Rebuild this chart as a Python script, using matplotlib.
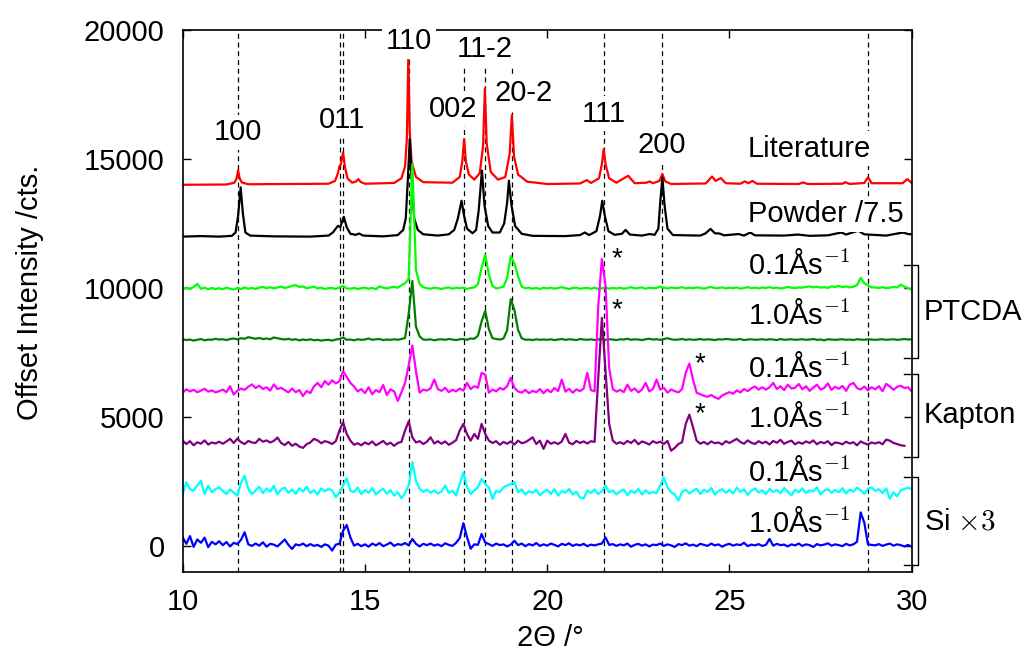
import numpy as np
import matplotlib
matplotlib.use("Agg")
import matplotlib.pyplot as plt

plt.rcParams['font.family'] = ['Liberation Sans', 'DejaVu Sans']
plt.rcParams['mathtext.fontset'] = 'cm'

# literature pattern (offset 14000)
lit_x = [10.0, 11.2, 11.42, 11.48, 11.52, 11.56, 11.62, 11.8, 14.0, 14.18, 14.26, 14.30, 14.34,
         14.40, 14.45, 14.52, 14.65, 14.76, 14.82, 14.88, 15.0, 15.8, 16.0, 16.1, 16.15, 16.19,
         16.23, 16.28, 16.4, 16.6, 17.4, 17.6, 17.67, 17.72, 17.77, 17.85, 18.0, 18.15, 18.24,
         18.29, 18.34, 18.45, 18.65, 18.85, 18.97, 19.03, 19.09, 19.2, 19.45, 20.0, 20.9, 21.09,
         21.2, 21.42, 21.5, 21.55, 21.6, 21.7, 21.9, 22.22, 22.4, 22.72, 22.81, 22.9, 23.08,
         23.16, 23.24, 23.4, 24.35, 24.52, 24.62, 24.76, 24.9, 25.3, 25.42, 25.52, 25.63, 25.75,
         26.9, 27.02, 27.15, 28.1, 28.18, 28.3, 28.7, 28.8, 28.9, 29.75, 29.88, 30.0]
lit_y = [14000, 14010, 14080, 14250, 14570, 14260, 14090, 14020, 14040, 14150, 14450, 14720, 14800,
         15250, 14700, 14250, 14080, 14130, 14220, 14110, 14040, 14070, 14250, 14700, 15800, 18960,
         16000, 14900, 14300, 14100, 14080, 14300, 14900, 15770, 14900, 14400, 14200, 14450, 15500,
         17730, 15600, 14500, 14200, 14300, 15200, 16700, 15100, 14400, 14120, 14030, 14050, 14180,
         14070, 14250, 14800, 15380, 14800, 14250, 14080, 14350, 14060, 14080, 14130, 14060, 14150,
         14420, 14130, 14030, 14050, 14320, 14150, 14260, 14060, 14040, 14130, 14060, 14150, 14040,
         14030, 14090, 14030, 14040, 14100, 14030, 14070, 14290, 14060, 14060, 14220, 14070]

# powder pattern /7.5 (offset 12000)
pow_x = [10.0, 10.5, 11.0, 11.35, 11.45, 11.52, 11.59, 11.65, 11.72, 11.85, 12.5, 13.5, 14.0,
         14.12, 14.2, 14.26, 14.32, 14.42, 14.5, 14.6, 14.75, 14.84, 14.95, 15.5, 15.9, 16.05,
         16.12, 16.18, 16.23, 16.28, 16.35, 16.45, 16.6, 17.0, 17.3, 17.45, 17.55, 17.65, 17.72,
         17.8, 17.95, 18.05, 18.12, 18.21, 18.28, 18.38, 18.5, 18.7, 18.82, 18.9, 18.95, 19.02,
         19.12, 19.3, 19.6, 20.5, 20.9, 21.03, 21.15, 21.35, 21.45, 21.51, 21.58, 21.68, 21.85,
         22.05, 22.15, 22.27, 22.6, 22.81, 22.95, 23.05, 23.1, 23.16, 23.22, 23.3, 23.45, 24.2,
         24.35, 24.48, 24.6, 24.73, 24.85, 25.25, 25.4, 25.57, 25.7, 26.5, 26.88, 27.2, 27.7,
         28.07, 28.2, 28.53, 28.7, 29.3, 29.76, 29.9, 30.0]
pow_y = [11990, 12010, 11990, 12020, 12150, 12800, 13900, 12900, 12150, 12030, 12000, 11990, 12030,
         12150, 12300, 12410, 12350, 12760, 12350, 12100, 12060, 12110, 12030, 12000, 12050, 12250,
         12700, 14300, 15770, 14300, 12700, 12250, 12080, 12030, 12080, 12250, 12700, 13380, 12800,
         12300, 12120, 12250, 13000, 14550, 13200, 12400, 12150, 12150, 12500, 13300, 14160, 13200,
         12400, 12100, 12020, 12010, 12050, 12150, 12050, 12200, 12800, 13380, 12800, 12200, 12060,
         12100, 12250, 12070, 12030, 12090, 12060, 12300, 13300, 14290, 13200, 12300, 12050, 12030,
         12120, 12290, 12120, 12110, 12040, 12090, 12030, 12150, 12040, 12030, 12070, 12020, 12040,
         12150, 12070, 12220, 12080, 12030, 12150, 12090, 12080]

# measured films, sampled every 0.1 deg from 10.0
ptcda_01 = [9980, 10010, 9960, 10040, 10160, 9970, 10010, 9950, 10000, 9960,
            9990, 9950, 10010, 9970, 9940, 10000, 9960, 10020, 9970, 10000,
            9960, 10010, 10040, 9990, 10030, 9980, 10020, 10050, 10000, 10030,
            10080, 10110, 10040, 10060, 9990, 10020, 10050, 9980, 10010, 9960,
            9990, 10000, 9960, 10020, 10080, 9980, 9970, 10000, 9960, 9990,
            10010, 9970, 10000, 9950, 10060, 10010, 9980, 10020, 10040, 10010,
            10100, 10180, 10350, 14800, 10700, 10150, 10030, 9990, 9970, 10010,
            9990, 9960, 10000, 10020, 9970, 10010, 9990, 10010, 9960, 10000,
            10020, 10150, 10780, 11290, 10520, 10080, 9980, 10010, 10050, 10380,
            11240, 10950, 10450, 10050, 9990, 10010, 9970, 10000, 9960, 10010,
            9980, 10010, 9970, 10000, 10030, 9990, 9960, 10000, 10010, 9970,
            9990, 10000, 9970, 10010, 9960, 9990, 10020, 9970, 10000, 9980,
            10010, 9970, 9990, 10030, 9980, 10000, 10020, 9970, 10010, 9990,
            10000, 10050, 10010, 9980, 10020, 9990, 10000, 10030, 9980, 10010,
            9990, 10020, 10000, 9970, 10010, 10040, 9990, 10000, 10020, 9980,
            10010, 9990, 10020, 9970, 10000, 10030, 9990, 10010, 9980, 10020,
            10000, 10030, 9990, 10010, 9980, 10000, 10040, 10010, 9990, 10020,
            10010, 10040, 10060, 10020, 10050, 10010, 10030, 10000, 10060, 10040,
            10080, 10030, 10060, 10020, 10050, 10110, 10390, 10180, 10100, 10020,
            10020, 10000, 10030, 9990, 10010, 10040, 10020, 10130, 10050, 9990,
            9940]
ptcda_10 = [8010, 7980, 8000, 7960, 7990, 8020, 7970, 8000, 7990, 8030,
            8000, 8010, 7980, 8020, 8040, 8010, 8050, 8030, 8090, 8060,
            8030, 8060, 8020, 8040, 8010, 8080, 8050, 8020, 8000, 8030,
            7990, 8010, 7970, 8000, 7980, 8010, 7970, 7990, 7960, 7980,
            7990, 7960, 8000, 8020, 8080, 7990, 8000, 7970, 8010, 7990,
            8000, 8040, 7990, 8010, 8020, 7980, 8000, 7990, 8010, 7990,
            8020, 8060, 9000, 10270, 8500, 8120, 8000, 7990, 8010, 7970,
            8000, 8010, 7990, 8020, 8000, 7980, 8010, 8020, 7990, 8040,
            8030, 8150, 8700, 9110, 8400, 8050, 8020, 8000, 8040, 8360,
            9570, 9150, 8380, 8050, 7990, 8000, 7980, 8010, 7990, 8000,
            7990, 8010, 7980, 8000, 8020, 7990, 8010, 8000, 7980, 8020,
            8000, 7990, 8010, 7980, 8000, 8020, 7990, 8010, 8000, 7980,
            8010, 8000, 8030, 7990, 8010, 8000, 7980, 8010, 8030, 8000,
            8010, 7990, 8020, 8050, 8010, 7990, 8000, 8020, 7990, 8010,
            7990, 8000, 8020, 7990, 8010, 8000, 7980, 8010, 8000, 8020,
            8010, 7990, 8000, 8020, 7980, 8000, 8010, 7990, 8000, 8010,
            7990, 8010, 8000, 7980, 8020, 7990, 8000, 8010, 7990, 8000,
            8010, 7990, 8000, 8020, 7990, 8000, 7970, 8010, 8000, 7990,
            8000, 8010, 7990, 8000, 7980, 8010, 8000, 7990, 8010, 8000,
            7990, 8000, 8010, 7990, 8000, 8010, 7990, 8000, 8020, 8000,
            8010]
kapton_01 = [5940, 6070, 5990, 6050, 5960, 6020, 6090, 5980, 6030, 5950,
             6000, 6060, 5960, 6190, 5870, 6020, 6100, 6050, 6170, 6260,
             6120, 6210, 6080, 6150, 6020, 6260, 6080, 6130, 6040, 5950,
             6100, 5960, 6040, 5810, 6010, 5920, 6180, 6320, 6150, 6390,
             6250, 6420, 6300, 6380, 6770, 6550, 6320, 6180, 5990, 6080,
             5920, 6150, 5880, 6040, 5960, 6240, 5850, 6070, 5990, 5620,
             5950, 6320, 7000, 7770, 6770, 5940, 6060, 6020, 6110, 6450,
             6080, 6010, 6130, 5960, 6050, 5990, 6100, 6020, 6320, 6080,
             6190, 6130, 6710, 6640, 5940, 6060, 5990, 6120, 6060, 6190,
             6520, 6130, 5990, 5940, 6050, 5920, 6010, 5960, 6080, 5920,
             6060, 5960, 6120, 6000, 6450, 5980, 6090, 5940, 6070, 6000,
             6100, 6710, 6040, 5990, 9290, 11120, 10100, 6900, 6080, 5980,
             6050, 5960, 6250, 6010, 6100, 5950, 6060, 6320, 5990, 6080,
             6450, 6060, 6130, 5940, 6060, 6000, 5950, 6080, 6710, 7070,
             6450, 5940, 5880, 5820, 5780, 5850, 5760, 5700, 5830, 5900,
             5960, 5900, 6030, 5950, 6080, 6000, 6110, 6180, 6060, 6150,
             6060, 6150, 6320, 6080, 6190, 6040, 6250, 6100, 6130, 6280,
             6070, 6190, 6010, 6140, 6250, 6060, 6120, 6300, 6050, 6170,
             6090, 6200, 6010, 6250, 6320, 6120, 6060, 6180, 6030, 6150,
             6070, 6190, 6000, 6280, 6180, 6050, 6170, 6210, 6120, 6150,
             5990]
kapton_10 = [4080, 3950, 4060, 3900, 4020, 3960, 4090, 3930, 4010, 3970,
             4040, 3960, 4050, 4150, 3990, 4160, 4020, 3950, 4070, 4010,
             3990, 4150, 4040, 4090, 4010, 4070, 4200, 3990, 3910, 4030,
             3880, 3960, 3850, 3800, 3940, 4010, 4150, 4090, 3980, 4060,
             4020, 3950, 4060, 4470, 4790, 4340, 4080, 3920, 3980, 3900,
             4010, 3940, 4050, 3900, 3980, 4070, 3930, 4000, 3880, 3990,
             4030, 4470, 4830, 4210, 4010, 4060, 3950, 4040, 4210, 3970,
             4060, 3960, 4050, 3920, 4000, 4100, 4470, 4730, 4340, 4080,
             4340, 4150, 4730, 4340, 4080, 3990, 4060, 3920, 4030, 3960,
             4050, 3930, 4080, 3980, 4020, 4110, 4210, 3950, 4080, 3760,
             4080, 3960, 4020, 3950, 4050, 4340, 4000, 3940, 4070, 3990,
             4050, 3970, 4060, 4030, 6500, 8840, 6800, 4730, 4080, 3960,
             4020, 3950, 4070, 3990, 4110, 3940, 4050, 4000, 3930, 4060,
             3990, 4040, 3950, 4070, 3690, 3800, 3950, 4020, 4730, 5090,
             4600, 4080, 3960, 4030, 3940, 4050, 3980, 4010, 3930, 4060,
             3990, 4070, 4150, 4030, 3960, 4090, 4000, 3950, 4060, 3980,
             4040, 3930, 4070, 4000, 4110, 3960, 4030, 4080, 3940, 4020,
             3960, 4050, 3990, 4090, 3940, 4030, 3980, 4060, 3910, 4010,
             3990, 3940, 4040, 3970, 4020, 3900, 4050, 3980, 3930, 4010,
             3970, 4020, 3940, 4120, 4080, 3990, 3950, 3900, 3880]
si_01 = [2010, 2470, 2200, 2140, 2350, 2530, 2010, 2340, 2080, 2200,
         2270, 2130, 2010, 2190, 2060, 1950, 2450, 2720, 2210, 2010,
         2150, 2290, 2050, 2220, 2100, 2330, 2000, 2190, 2260, 2060,
         2180, 2020, 2240, 2110, 2300, 2050, 2160, 1990, 2230, 2120,
         2210, 2150, 1890, 2080, 2340, 2630, 2140, 2090, 2260, 2010,
         2170, 2060, 2240, 1990, 2130, 2210, 2020, 2160, 1950, 2080,
         1850, 2050, 2340, 3240, 2530, 2210, 2100, 2180, 2060, 2150,
         2030, 2110, 2340, 2050, 2140, 1950, 2400, 2850, 2270, 2010,
         2150, 2270, 2600, 2400, 2270, 1820, 2140, 2080, 2270, 2340,
         2400, 2470, 2080, 2190, 1990, 2120, 2060, 2180, 1960, 2090,
         2180, 2020, 2200, 1950, 2130, 2060, 2210, 1990, 2100, 1880,
         1830, 2150, 2050, 2190, 2010, 2120, 2340, 2080, 2150, 2000,
         2110, 2190, 1960, 2140, 2050, 2210, 1990, 2160, 2030, 2090,
         2050, 2340, 2660, 2270, 2080, 2000, 1760, 2090, 2180, 2030,
         2140, 2220, 2010, 2180, 2090, 2250, 1990, 2130, 2200, 2060,
         2170, 2030, 2260, 2100, 2190, 1980, 2140, 2230, 2070, 2160,
         2000, 2210, 2090, 2170, 2040, 2250, 2110, 1960, 2180, 2080,
         2230, 2050, 2160, 2110, 2270, 1990, 2140, 2200, 2060, 2170,
         2080, 2240, 2030, 2190, 2100, 2260, 2150, 2020, 2210, 2270,
         2130, 2200, 2050, 2230, 1830, 2080, 1920, 2160, 2210, 2250,
         2210]
si_10 = [330, 80, 380, -40, 250, 120, 320, -50, 160, 60,
         180, 30, 150, -20, 120, 70, 240, 530, 60, 0,
         90, 10, 140, -30, 80, 50, -20, 110, 250, 40,
         -120, 60, 20, 90, -10, 70, 0, 40, -40, 60,
         10, -180, 50, 80, 590, 810, 330, 10, 80, -10,
         60, -30, 90, 20, 110, -10, 50, 130, 0, 70,
         40, 110, 20, 270, 80, -20, 80, 30, 90, 10,
         60, -10, 100, 40, 0, 120, 300, 880, 340, -110,
         60, 40, 460, 130, 70, 0, 90, 30, 60, -20,
         50, 200, 30, 90, -10, 70, 20, 110, 0, 60,
         10, 90, 40, -20, 80, 30, 100, 0, 60, 20,
         80, -10, 50, 20, 60, 90, 330, 40, 70, 0,
         60, 20, 90, -30, 40, 80, 10, 60, -20, 50,
         30, 90, 0, 60, 20, -40, 70, 30, 100, 10,
         50, -10, 80, 40, 0, 90, 20, 60, -30, 40,
         80, 10, 60, 30, 120, -10, 50, 20, 70, 0,
         40, 270, 10, 80, 30, 50, -20, 60, 20, 90,
         0, 60, 30, -40, 70, 20, 50, 100, 10, 60,
         30, -10, 80, 20, 60, 160, 1300, 900, 60, 40,
         20, 70, 0, 50, 90, 10, 60, 30, -20, 40,
         -30]

# reflections
refl_pos = [11.52, 14.31, 14.39, 16.21, 17.73, 18.29, 19.03, 21.55, 23.16, 28.80]
hkl_labels = ['100', '011', '110', '002', '11-2', '20-2', '111', '200']
hkl_x = [11.52, 14.37, 16.21, 17.41, 18.29, 19.36, 21.54, 23.14]
hkl_y = [15730, 16220, 19250, 16630, 18960, 17250, 16440, 15230]

grid = np.round(np.arange(10.0, 30.05, 0.1), 1)
fs = 21

fig = plt.figure(figsize=(10.28, 6.54), dpi=100)
ax = fig.add_axes([182.7/1028, 1 - 571.7/654, (911.7-182.7)/1028, (571.7-30)/654])

for p in refl_pos:
    ax.axvline(p, color='black', lw=0.9, ls=(0, (4, 3)), zorder=1)

lw = 1.6
ax.plot(lit_x, lit_y, color='#ff0000', lw=lw, zorder=2)
ax.plot(pow_x, pow_y, color='black', lw=lw, zorder=2)
ax.plot(grid[:len(ptcda_01)], ptcda_01, color='#00ff00', lw=lw, zorder=2)
ax.plot(grid[:len(ptcda_10)], ptcda_10, color='#008000', lw=lw, zorder=2)
ax.plot(grid[:len(kapton_01)], kapton_01, color='#ff00ff', lw=lw, zorder=2)
ax.plot(grid[:len(kapton_10)], kapton_10, color='#800080', lw=lw, zorder=2)
ax.plot(grid[:len(si_01)], si_01, color='#00ffff', lw=lw, zorder=2)
ax.plot(grid[:len(si_10)], si_10, color='#0000ff', lw=lw, zorder=2)

box = dict(boxstyle='square,pad=0.12', fc='white', ec='none')
for lab, x, y in zip(hkl_labels, hkl_x, hkl_y):
    ax.text(x, y, lab, fontsize=fs, ha='center', va='baseline', bbox=box, zorder=3)

ax.text(25.51, 15080, 'Literature', fontsize=fs, va='baseline', bbox=box, zorder=3)
ax.text(25.51, 12555, 'Powder /7.5', fontsize=fs, va='baseline', bbox=box, zorder=3)
for lab, y in zip(['0.1', '1.0', '0.1', '1.0', '0.1', '1.0'],
                  [10550, 8610, 6536, 4594, 2524, 555]):
    ax.text(25.51, y, lab + r'Ås$^{-1}$', fontsize=fs, va='baseline', zorder=3)

# asterisks on substrate peaks
for x, y in [(21.9, 11130), (21.9, 9130), (24.2, 7030), (24.2, 5090)]:
    ax.text(x, y, '*', fontsize=20, ha='center', va='center', zorder=3)

# brackets on the right
for y0, y1, lab in [(7274, 10885, 'PTCDA'), (3456, 6680, 'Kapton'), (-738, 2652, r'Si $\times 3$')]:
    ax.plot([29.79, 30.18, 30.18, 29.79], [y1, y1, y0, y0], color='black', lw=1.0,
            clip_on=False, zorder=3)
    ax.text(30.34, (y0 + y1) / 2, lab, fontsize=fs, va='center', clip_on=False)

ax.set_xlim(10, 30)
ax.set_ylim(-1000, 20000)
ax.set_xticks([10, 15, 20, 25, 30])
ax.set_yticks([0, 5000, 10000, 15000, 20000])
ax.tick_params(direction='in', length=6, width=1, top=True, right=True, labelsize=fs)
ax.tick_params(axis='y', pad=13)
ax.tick_params(axis='x', pad=12)
for s in ax.spines.values():
    s.set_linewidth(1.2)

fig.text(30/1028, 1 - 292/654, 'Offset Intensity /cts.', fontsize=fs, rotation=90,
         ha='center', va='center')
fig.text(550/1028, 1 - 638/654, '2Θ /°', fontsize=fs, ha='center', va='center')

fig.savefig('out.png', dpi=100)
